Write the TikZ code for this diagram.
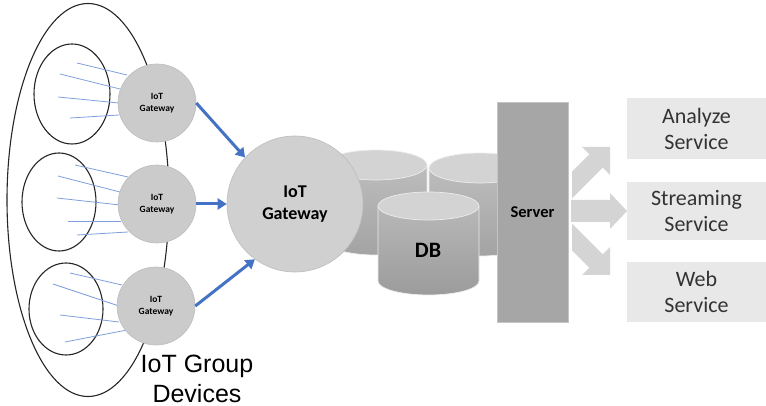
\documentclass[tikz,border=0pt]{standalone}
\usepackage{fontspec}
\setmainfont{Carlito}
\newfontfamily\arialfont{Liberation Sans}
\usetikzlibrary{arrows.meta}

\definecolor{gwfill}{HTML}{CBCBCB}
\definecolor{gwedge}{HTML}{BDBDBD}
\definecolor{biggw}{HTML}{D0D0D0}
\definecolor{linkblue}{HTML}{4472C4}
\definecolor{devblue}{HTML}{7FA0DC}
\definecolor{cyltopc}{HTML}{D3D3D3}
\definecolor{srvfill}{HTML}{A6A6A6}
\definecolor{srvedge}{HTML}{C4C4C4}
\definecolor{flowgray}{HTML}{D4D4D4}
\definecolor{boxfill}{HTML}{E8E8E8}
\definecolor{boxtext}{HTML}{333333}

% cylinder: #1 centre x, #2 top ellipse y, #3 bottom ellipse y, #4 half width,
% #5 ellipse y radius, #6 body top colour, #7 body bottom colour
\newcommand{\dbdrum}[7]{%
  \path[top color=#6, bottom color=#7, draw=white!85!gray, line width=0.7pt]
    (#1-#4,#2) -- (#1-#4,#3)
    arc[start angle=180, end angle=360, x radius=#4pt, y radius=#5pt]
    -- (#1+#4,#2) -- cycle;
  \path[fill=cyltopc, draw=white!85!gray, line width=0.7pt]
    (#1,#2) ellipse[x radius=#4pt, y radius=#5pt];
}

\begin{document}
\begin{tikzpicture}[x=1pt, y=-1pt,
  gwsmall/.style={circle, fill=gwfill, draw=gwedge, line width=0.6pt,
    inner sep=0pt, minimum size=78pt, align=center,
    font=\bfseries\fontsize{9.5}{11.5}\selectfont},
  gwbig/.style={circle, fill=biggw, draw=gwedge, line width=0.6pt,
    inner sep=0pt, minimum size=136pt, align=center,
    font=\bfseries\fontsize{18}{22}\selectfont},
  grouprim/.style={draw=black!85, line width=1.1pt},
  devline/.style={draw=devblue, line width=0.8pt},
  uplink/.style={draw=linkblue, line width=3pt,
    -{Triangle[length=9pt, width=11pt]}},
  servicebox/.style={rectangle, fill=boxfill, inner sep=0pt,
    minimum width=139pt, align=center, text=boxtext,
    font=\fontsize{22}{26}\selectfont},
  flowarrow/.style={fill=flowgray}
]
\useasboundingbox (0,0) rectangle (766,406);
\fill[white] (0,0) rectangle (766,406);

% device groups
\draw[grouprim] (88,200) ellipse[x radius=81pt, y radius=196.5pt];
\draw[grouprim] (72,94) ellipse[x radius=38pt, y radius=50pt];
\draw[grouprim] (59,202) ellipse[x radius=37pt, y radius=49pt];
\draw[grouprim] (66,309) ellipse[x radius=37pt, y radius=46pt];

% devices linked to their local gateway
\draw[devline] (77,63) -- (127,75);
\draw[devline] (60,74) -- (120,89);
\draw[devline] (58,97) -- (119,103);
\draw[devline] (70,118) -- (119,115);
\draw[devline] (75,165) -- (128,177);
\draw[devline] (58,176) -- (120,192);
\draw[devline] (57,198) -- (120,205);
\draw[devline] (68,221) -- (121,221);
\draw[devline] (77,235) -- (128,232);
\draw[devline] (70,273) -- (122,285);
\draw[devline] (53,284) -- (119,306);
\draw[devline] (60,315) -- (119,322);
\draw[devline] (65,342) -- (127,330);

% local gateways
\node[gwsmall] (g1) at (157,103) {IoT\\Gateway};
\node[gwsmall] (g2) at (157,204) {IoT\\Gateway};
\node[gwsmall] (g3) at (156,306) {IoT\\Gateway};

% storage
\dbdrum{376}{165}{240}{51}{15}{white!74!black}{white!64!black}
\dbdrum{480}{168}{241}{51}{15}{white!74!black}{white!64!black}
\dbdrum{428.5}{206}{281}{50.5}{14}{white!72!black}{white!61!black}
\node[font=\bfseries\fontsize{22}{26}\selectfont] (db) at (428,250) {DB};

% central gateway
\node[gwbig] (gw) at (295,204) {IoT\\Gateway};

\draw[uplink] (g1.east) -- (gw.137);
\draw[uplink] (g2.east) -- (gw.180);
\draw[uplink] (g3.east) -- (gw.234);

% server
\node[rectangle, fill=srvfill, draw=srvedge, line width=0.8pt,
  minimum width=71pt, minimum height=220pt, inner sep=0pt,
  font=\bfseries\fontsize{16.5}{20}\selectfont] (srv) at (532.5,212) {Server};

% fan-out arrows
\fill[flowarrow] (572,171.6) -- (589.3,154.3) -- (582,147) -- (610,147)
  -- (610,175) -- (602.7,167.7) -- (572,198.4) -- cycle;
\fill[flowarrow] (571,200) -- (610,200) -- (610,193) -- (627,211)
  -- (610,229) -- (610,222) -- (571,222) -- cycle;
\fill[flowarrow] (572,250.4) -- (589.3,267.7) -- (582,275) -- (610,275)
  -- (610,247) -- (602.7,254.3) -- (572,223.6) -- cycle;

% services
\node[servicebox, minimum height=61pt] (an) at (696.5,128.5) {Analyze\\Service};
\node[servicebox, minimum height=58pt] (st) at (696.5,211) {Streaming\\Service};
\node[servicebox, minimum height=60pt] (wb) at (696.5,292) {Web\\Service};

% group caption
\node[anchor=base, font=\arialfont\fontsize{25}{30}\selectfont, inner sep=0pt]
  (cap1) at (197,372) {IoT Group};
\node[anchor=base, font=\arialfont\fontsize{25}{30}\selectfont, inner sep=0pt]
  (cap2) at (197,402) {Devices};
\end{tikzpicture}
\end{document}
